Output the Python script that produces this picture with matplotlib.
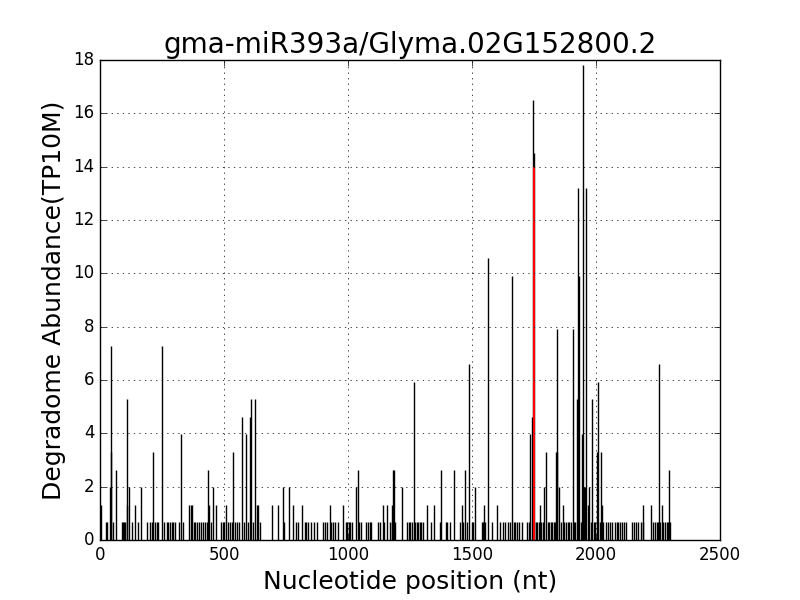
import matplotlib
matplotlib.use("Agg")
import matplotlib.pyplot as plt

# degradome peaks (position nt, abundance TP10M)
positions = [4, 25, 30, 40, 43, 46, 53, 63, 88, 92, 96, 100, 107, 110, 117, 128, 141, 155, 165, 188,
             203, 210, 213, 222, 228, 234, 250, 258, 270, 276, 282, 290, 296, 302, 320, 328, 333,
             358, 365, 372, 378, 383, 392, 400, 408, 416, 424, 431,
             437, 441, 448, 456, 468, 488, 494, 500, 508, 516, 524, 532, 537, 544, 552, 560, 571,
             580, 589, 596, 605, 609, 616, 625, 633, 638, 645, 692, 718, 736, 740, 762, 778, 790,
             797, 815, 825, 832, 840,
             850, 864, 875, 900, 908, 916, 927, 933, 940, 948, 961, 980, 990, 996, 1003, 1010, 1016,
             1032, 1041, 1045, 1052, 1073, 1080, 1087, 1094, 1122, 1128, 1141, 1147, 1157, 1170,
             1176, 1178, 1182, 1185, 1189, 1218, 1238, 1245, 1252, 1258, 1266,
             1272, 1278, 1284, 1290, 1296, 1302, 1319, 1333, 1347, 1371, 1375, 1395, 1400, 1410,
             1428, 1452, 1458, 1464, 1472, 1478, 1488, 1500, 1506, 1513, 1540, 1546, 1548, 1553,
             1564, 1580, 1601, 1612, 1625, 1635, 1645, 1652, 1660, 1668, 1675,
             1682, 1690, 1700, 1723, 1728, 1734, 1741, 1746, 1748, 1752, 1758, 1764, 1770, 1774,
             1780, 1786, 1792, 1800, 1806, 1812, 1818, 1824, 1830, 1836, 1839, 1841, 1844, 1851,
             1857, 1866, 1870, 1878, 1886, 1893, 1900, 1906, 1912, 1917, 1923, 1929, 1933, 1938,
             1945, 1949, 1953, 1956, 1961, 1966, 1972, 1978, 1983, 1990, 1996, 2003, 2010, 2016,
             2020, 2024, 2030, 2040, 2050, 2058, 2066, 2075, 2083, 2090,
             2098, 2105, 2112, 2120, 2145, 2152, 2160, 2168, 2180, 2188, 2191, 2222, 2230, 2238,
             2245, 2250, 2255, 2260, 2267, 2272, 2278, 2285, 2290, 2296, 2300]
abundance = [1.32, 0.66, 0.66, 1.98, 7.26, 3.3, 0.66, 2.64, 0.66, 0.66, 0.66, 0.66, 1.32, 5.28, 1.98, 0.66, 1.32, 0.66, 1.98, 0.66,
             0.66, 0.66, 3.3, 0.66, 0.66, 0.66, 7.26, 0.66, 0.66, 0.66, 0.66, 0.66, 0.66, 0.66, 0.66, 3.96, 0.66,
             1.32, 1.32, 1.32, 0.66, 0.66, 0.66, 0.66, 0.66, 0.66, 0.66, 0.66,
             2.64, 1.32, 0.66, 1.98, 1.32, 0.66, 0.66, 0.66, 1.32, 0.66, 0.66, 0.66, 3.3, 0.66, 0.66, 0.66, 4.62,
             0.66, 3.96, 0.66, 4.62, 5.28, 0.66, 5.28, 1.32, 1.32, 0.66, 1.32, 1.32, 1.98, 0.66, 1.98, 1.32, 0.66,
             0.66, 1.32, 0.66, 0.66, 0.66,
             0.66, 0.66, 0.66, 0.66, 0.66, 0.66, 1.32, 0.66, 0.66, 0.66, 0.66, 1.32, 0.66, 0.66, 0.66, 0.66, 0.66,
             1.98, 2.64, 0.66, 0.66, 0.66, 0.66, 0.66, 0.66, 0.66, 0.66, 1.32, 0.66, 1.32, 0.66,
             0.66, 1.32, 2.64, 2.64, 0.66, 1.98, 0.66, 0.66, 0.66, 0.66, 5.94,
             0.66, 0.66, 0.66, 0.66, 0.66, 0.66, 1.32, 0.66, 1.32, 0.66, 2.64, 0.66, 0.66, 0.66,
             2.64, 0.66, 1.32, 0.66, 2.64, 0.66, 6.6, 0.66, 0.66, 1.98, 0.66, 0.66, 1.32, 0.66,
             10.56, 0.66, 1.32, 0.66, 0.66, 0.66, 0.66, 0.66, 9.9, 0.66, 0.66,
             0.66, 0.66, 0.66, 0.66, 0.66, 3.96, 4.62, 16.5, 14.5, 0.66, 0.66, 0.66, 0.66, 1.32,
             0.66, 0.66, 1.98, 3.3, 0.66, 0.66, 0.66, 0.66, 0.66, 0.66, 3.3, 7.92, 3.3, 1.98,
             0.66, 1.32, 0.66, 0.66, 0.66, 0.66, 0.66, 7.92, 0.66, 0.66, 5.28, 13.2, 9.9, 0.66,
             3.96, 17.8, 1.98, 1.98, 13.2, 1.32, 1.98, 0.66, 5.28, 0.66, 0.66, 3.3, 5.94, 0.66,
             3.3, 1.32, 0.66, 0.66, 0.66, 0.66, 0.66, 0.66, 0.66, 0.66,
             0.66, 0.66, 0.66, 0.66, 0.66, 0.66, 0.66, 0.66, 0.66, 0.66, 1.32, 1.32, 0.66, 0.66,
             0.66, 0.66, 6.6, 0.66, 1.32, 0.66, 0.66, 0.66, 0.66, 2.64, 0.66]

# cleavage site (target)
target_pos = [1748]
target_val = [14.0]

plt.style.use("classic")
fig = plt.figure(figsize=(8, 6))
ax = fig.add_subplot(111)

ax.vlines(positions, 0, abundance, colors="k", linewidth=1)
ax.vlines(target_pos, 0, target_val, colors="r", linewidth=1.5)

ax.set_xlim(0, 2500)
ax.set_ylim(0, 18)
ax.set_xticks(range(0, 2501, 500))
ax.set_yticks(range(0, 19, 2))
ax.grid(True)
ax.set_title("gma-miR393a/Glyma.02G152800.2", fontsize=20)
ax.set_xlabel("Nucleotide position (nt)", fontsize=18)
ax.set_ylabel("Degradome Abundance(TP10M)", fontsize=18)

fig.savefig("out.png", dpi=100, facecolor="white")
